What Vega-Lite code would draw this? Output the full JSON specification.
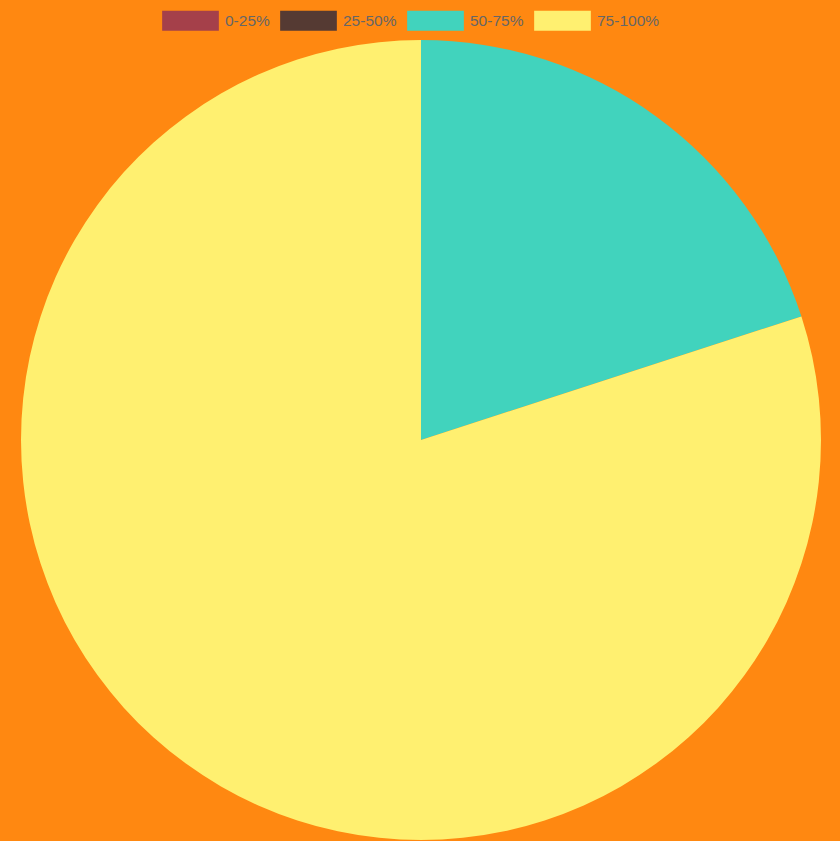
{
  "$schema": "https://vega.github.io/schema/vega-lite/v6.json",
  "width": 800,
  "height": 800,
  "autosize": {"type": "none"},
  "padding": {"left": 21, "top": 40, "right": 19, "bottom": 1},
  "background": "#ff8811",
  "config": {"view": {"stroke": null}},
  "data": {
    "values": [
      {"range": "0-25%", "value": 0},
      {"range": "25-50%", "value": 0},
      {"range": "50-75%", "value": 20},
      {"range": "75-100%", "value": 80}
    ]
  },
  "mark": {"type": "arc", "outerRadius": 400},
  "encoding": {
    "theta": {"field": "value", "type": "quantitative", "stack": true},
    "color": {
      "field": "range",
      "type": "nominal",
      "sort": ["0-25%", "25-50%", "50-75%", "75-100%"],
      "scale": {
        "domain": ["0-25%", "25-50%", "50-75%", "75-100%"],
        "range": ["#a5404a", "#553a33", "#41d3bd", "#fff070"]
      },
      "legend": {
        "title": null,
        "orient": "none",
        "direction": "horizontal",
        "columns": 4,
        "legendX": 141,
        "legendY": -48,
        "symbolType": "M-1,-0.35H1V0.35H-1Z",
        "symbolSize": 3215,
        "symbolStrokeWidth": 0,
        "symbolOpacity": 1,
        "labelFont": "Liberation Sans",
        "labelFontSize": 15.5,
        "labelColor": "#666666",
        "labelOffset": 6,
        "columnPadding": 10,
        "padding": 0
      }
    },
    "order": {"field": "range", "sort": "ascending"}
  }
}
